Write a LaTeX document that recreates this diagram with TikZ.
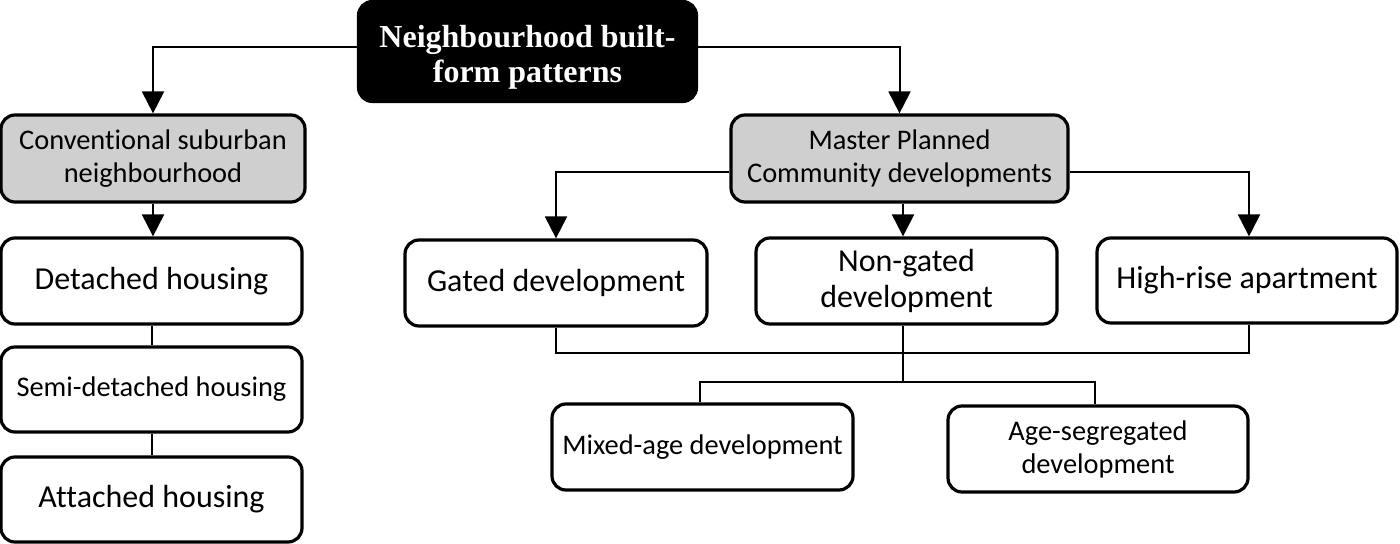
\documentclass[tikz,border=0pt]{standalone}
\usepackage{fontspec}
\newfontfamily\calfont[Ligatures={NoCommon}]{Carlito}
\newfontfamily\timesfont{Liberation Serif}
\usetikzlibrary{arrows.meta,calc}
\tikzset{
  box/.style={draw=black, line width=1.6pt, rounded corners=7pt, inner sep=0pt, align=center, font=\calfont},
  grey/.style={box, fill=black!19},
  conn/.style={line width=1pt, draw=black},
  arr/.style={conn, -{Triangle[width=11pt,length=11pt]}},
  small/.style={font=\calfont\fontsize{14.2}{16.5}\selectfont},
  large/.style={font=\calfont\fontsize{16}{18}\selectfont},
}
\begin{document}
\begin{tikzpicture}[x=0.5pt,y=-0.5pt]
\useasboundingbox (0,0) rectangle (1400,544);
\node[box, fill=black, text=white, font=\timesfont\bfseries\fontsize{16}{17.5}\selectfont, minimum width=169pt, minimum height=50pt] (top) at (527.5,51.5) {\raisebox{-3pt}[\height][\depth]{\shortstack{Neighbourhood built-\\form patterns}}};
\node[grey, small, minimum width=152pt, minimum height=43.5pt] (conv) at (153,158.5) {Conventional suburban\\neighbourhood};
\node[grey, small, minimum width=168.5pt, minimum height=43.5pt] (master) at (899.5,158.5) {Master Planned\\Community developments};
\node[box, large, minimum width=150.5pt, minimum height=43pt] (det) at (151.5,281) {Detached housing};
\node[box, small, minimum width=150.5pt, minimum height=42.5pt] (semi) at (151.5,389.5) {Semi-detached housing};
\node[box, large, minimum width=150.5pt, minimum height=42.5pt] (att) at (151.5,499.5) {Attached housing};
\node[box, large, minimum width=151pt, minimum height=43pt] (gated) at (556,283) {Gated development};
\node[box, large, minimum width=150.5pt, minimum height=43pt] (nongated) at (906.5,281) {Non-gated\\development};
\node[box, large, minimum width=150pt, minimum height=42.5pt] (high) at (1247,280.5) {High-rise apartment};
\node[box, small, minimum width=150.5pt, minimum height=43pt] (mixed) at (702.5,447) {Mixed-age development};
\node[box, small, minimum width=150pt, minimum height=43pt] (age) at (1098,449) {Age-segregated\\development};
% top connectors
\draw[arr] ([yshift=2pt]top.west) -| (conv.north);
\draw[arr] ([yshift=2pt]top.east) -| (master.north);
% conventional chain
\draw[arr] (conv.south) -- (conv.south |- det.north);
\draw[conn] (det.south) -- (semi.north);
\draw[conn] (semi.south) -- (att.north);
% master connectors
\draw[arr] ([yshift=-6.75pt]master.west) -| (gated.north);
\draw[arr] ([xshift=1.75pt]master.south) -- ([xshift=-1.75pt]nongated.north);
\draw[arr] ([yshift=-6.75pt]master.east) -| ([xshift=1pt]high.north);
% bottom connectors
\coordinate (hb) at (0,353);
\draw[conn] (gated.south) -- (gated.south |- hb) -| ([xshift=1pt]high.south);
\coordinate (mb) at (0,382);
\draw[conn] ([xshift=-1.75pt]nongated.south) -- ([xshift=-1.75pt]nongated.south |- mb);
\draw[conn] ([xshift=-1.25pt]mixed.north) -- ([xshift=-1.25pt]mixed.north |- mb) -- ([xshift=-1.5pt]age.north |- mb) -- ([xshift=-1.5pt]age.north);
\end{tikzpicture}
\end{document}
